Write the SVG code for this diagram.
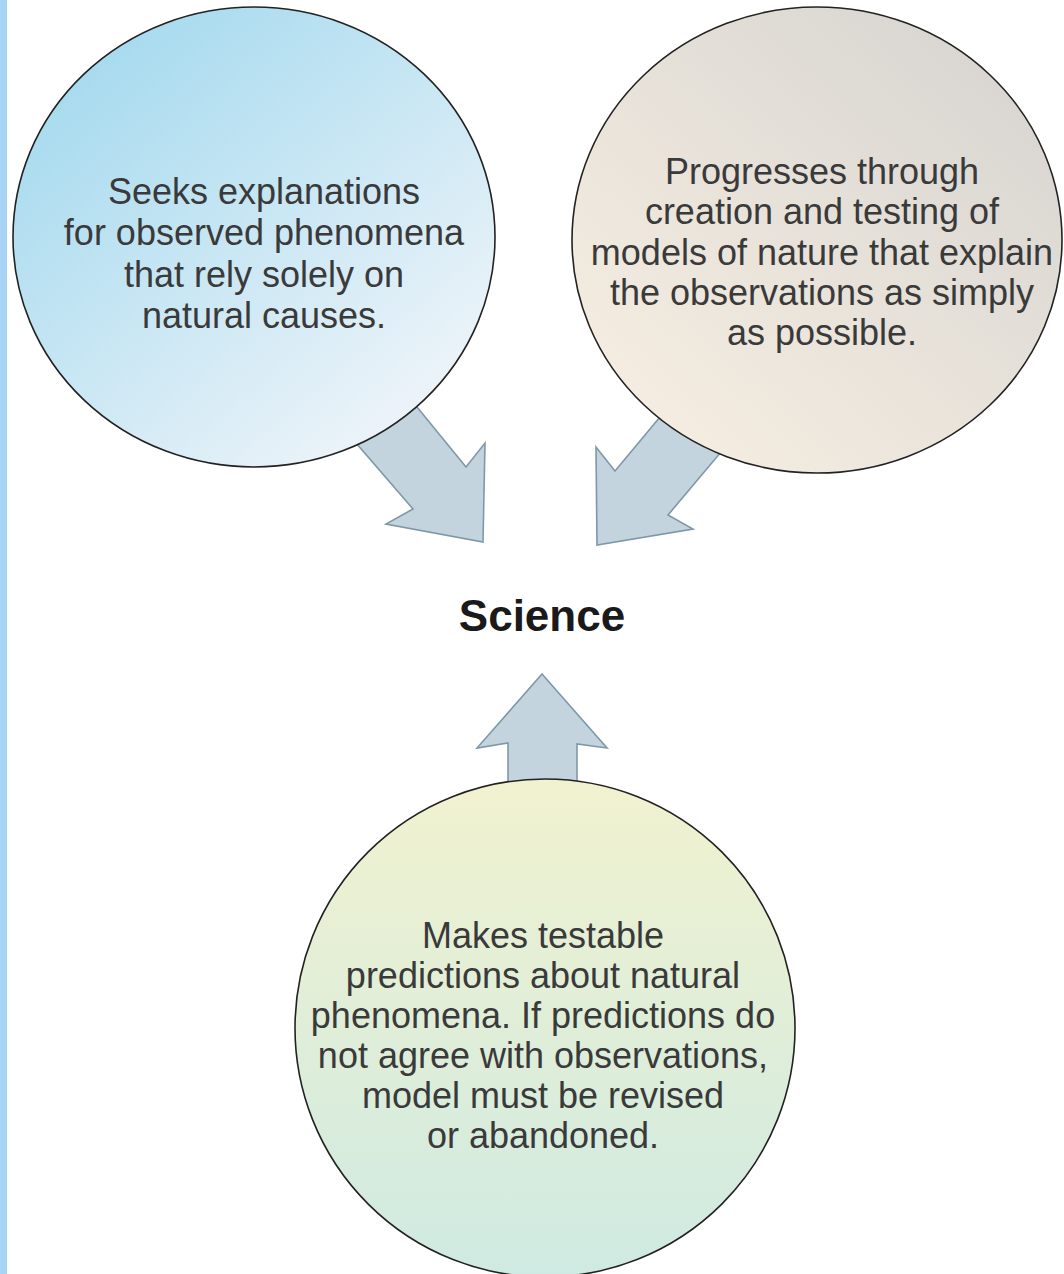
<svg xmlns="http://www.w3.org/2000/svg" width="1064" height="1274" viewBox="0 0 1064 1274">
  <style>
    .circle { stroke: #222; stroke-width: 1.6; }
    .arrow { fill: #c3d4df; stroke: #7f98a8; stroke-width: 1.6; stroke-linejoin: miter; }
    .label { font-family: "Liberation Sans", Arial, sans-serif; font-size: 36px; fill: #3a3a3a; text-anchor: middle; }
    .title { font-family: "Liberation Sans", Arial, sans-serif; font-size: 44px; font-weight: bold; fill: #1a1a1a; text-anchor: middle; }
  </style>
  <defs>
    <linearGradient id="gBlue" x1="0.15" y1="0.1" x2="0.85" y2="0.9">
      <stop offset="0" stop-color="#a6daef"/>
      <stop offset="1" stop-color="#eef4f9"/>
    </linearGradient>
    <linearGradient id="gBeige" x1="0.9" y1="0.1" x2="0.15" y2="0.9">
      <stop offset="0" stop-color="#d8d5d1"/>
      <stop offset="1" stop-color="#f5ede1"/>
    </linearGradient>
    <linearGradient id="gGreen" x1="0" y1="0" x2="0" y2="1">
      <stop offset="0" stop-color="#f1f2cf"/>
      <stop offset="1" stop-color="#cfeae2"/>
    </linearGradient>
  </defs>
  <rect x="0" y="0" width="1064" height="1274" fill="#ffffff"/>
  <rect x="0" y="0" width="7" height="1274" fill="#a7d3f6"/>

  <g id="connectors">
    <polygon class="arrow" points="399,385 466,467 485,443 483,542 386,524 413,509 344,429"/>
    <polygon class="arrow" points="675,399 615,471 596,447 597,545 693,529 668,515 732,439"/>
    <polygon class="arrow" points="542,674 607,748 577,744 577,800 508,800 508,743 477,748"/>
  </g>

  <g id="node-natural-causes">
    <ellipse class="circle" cx="254" cy="237" rx="241" ry="230" fill="url(#gBlue)"/>
    <text class="label" x="264" y="204">Seeks explanations</text>
    <text class="label" x="264" y="245">for observed phenomena</text>
    <text class="label" x="264" y="287">that rely solely on</text>
    <text class="label" x="264" y="328">natural causes.</text>
  </g>

  <g id="node-models">
    <ellipse class="circle" cx="817" cy="240" rx="245" ry="233" fill="url(#gBeige)"/>
    <text class="label" x="822" y="184">Progresses through</text>
    <text class="label" x="822" y="224">creation and testing of</text>
    <text class="label" x="822" y="265">models of nature that explain</text>
    <text class="label" x="822" y="305">the observations as simply</text>
    <text class="label" x="822" y="345">as possible.</text>
  </g>

  <g id="node-predictions">
    <ellipse class="circle" cx="545" cy="1028" rx="250" ry="249" fill="url(#gGreen)"/>
    <text class="label" x="543" y="948">Makes testable</text>
    <text class="label" x="543" y="988">predictions about natural</text>
    <text class="label" x="543" y="1028">phenomena. If predictions do</text>
    <text class="label" x="543" y="1068">not agree with observations,</text>
    <text class="label" x="543" y="1108">model must be revised</text>
    <text class="label" x="543" y="1148">or abandoned.</text>
  </g>

  <g id="node-science">
    <text class="title" x="542" y="631">Science</text>
  </g>
</svg>
